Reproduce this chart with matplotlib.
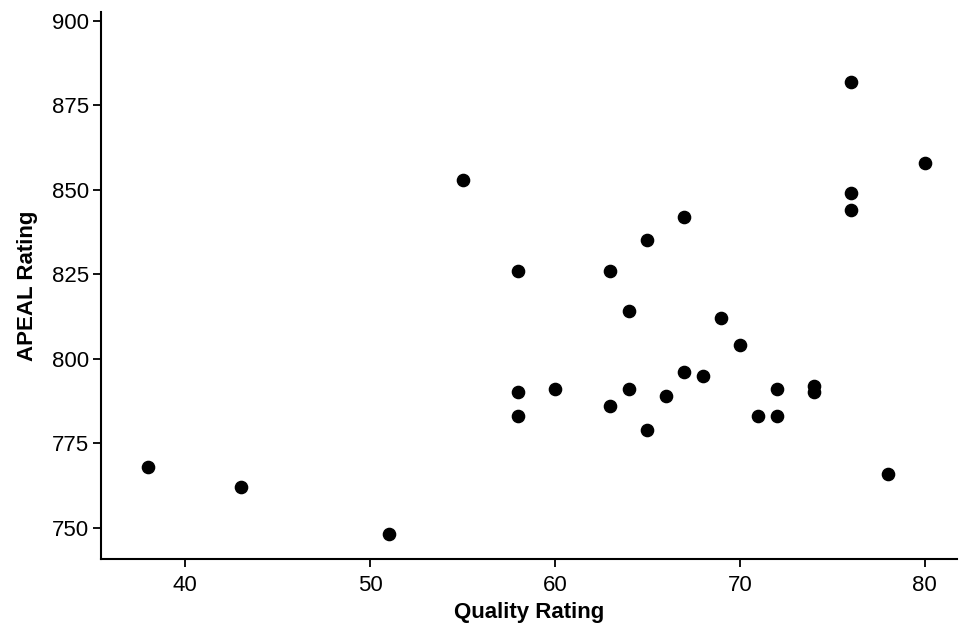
import matplotlib
matplotlib.use("Agg")
import matplotlib.pyplot as plt

plt.rcParams['font.family'] = ['Liberation Sans', 'DejaVu Sans']

quality = [38, 43, 51, 55, 58, 58, 58, 60, 63, 63, 64, 64, 65, 65, 66,
           67, 67, 68, 69, 70, 71, 72, 72, 74, 74, 76, 76, 76, 78, 80]
apeal = [768, 762, 748, 853, 826, 790, 783, 791, 826, 786, 814, 791, 835, 779, 789,
         842, 796, 795, 812, 804, 783, 791, 783, 792, 790, 882, 849, 844, 766, 858]

x_ticks = [40, 50, 60, 70, 80]
y_ticks = [750, 775, 800, 825, 850, 875, 900]

fig = plt.figure(figsize=(9.62, 6.32), dpi=100)
ax = fig.add_axes([0.105, 0.115, 0.89, 0.8665])

ax.plot(quality, apeal, 'o', color='black', markersize=8.8, linestyle='none')

ax.set_xlim(35.45, 81.75)
ax.set_ylim(740.6, 902.7)
ax.set_xticks(x_ticks)
ax.set_yticks(y_ticks)

for s in ['top', 'right']:
    ax.spines[s].set_visible(False)
for s in ['left', 'bottom']:
    ax.spines[s].set_linewidth(1.5)

ax.tick_params(direction='out', length=5.5, width=1.3, labelsize=16, pad=3)
ax.tick_params(axis='x', pad=6)

ax.set_xlabel("Quality Rating", fontsize=16, fontweight='bold', labelpad=4)
ax.set_ylabel("APEAL Rating", fontsize=16, fontweight='bold', labelpad=10)

fig.savefig("out.png", dpi=100)
